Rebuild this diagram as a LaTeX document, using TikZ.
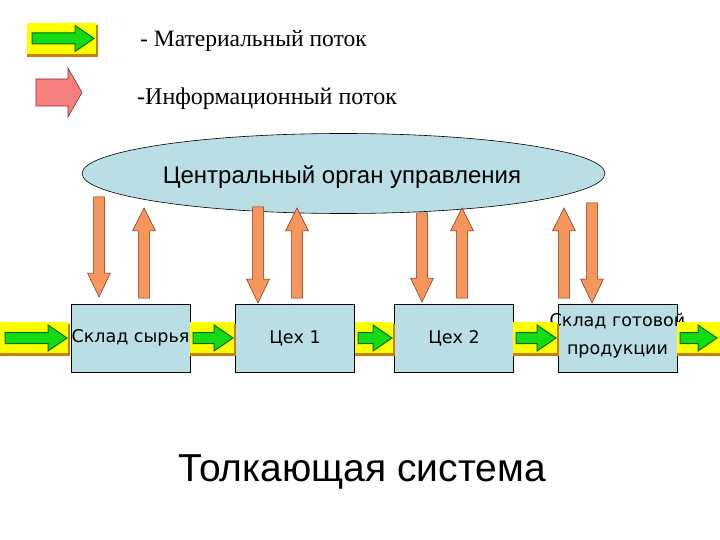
\documentclass[tikz,border=0pt]{standalone}
\usepackage{fontspec}
\setmainfont{Liberation Serif}
\newfontfamily\arialf{Liberation Sans}
\newfontfamily\tahf{DejaVu Sans}
\usetikzlibrary{shapes.geometric}
\definecolor{boxblue}{RGB}{185,222,228}
\definecolor{orfill}{RGB}{247,150,92}
\definecolor{orline}{RGB}{120,50,20}
\definecolor{pinkfill}{RGB}{246,128,128}
\definecolor{pinkline}{RGB}{150,40,40}
\definecolor{yel}{RGB}{255,255,0}
\definecolor{yshadow}{RGB}{200,130,0}
\definecolor{grfill}{RGB}{20,220,20}
\definecolor{grline}{RGB}{0,110,0}
\tikzset{
  info/.style={fill=orfill,draw=orline,line width=0.5pt},
  pinkarr/.style={fill=pinkfill,draw=pinkline,line width=0.6pt},
  matarr/.style={fill=grfill,draw=grline,line width=1pt},
  stagebox/.style={draw=black,line width=0.6pt,fill=boxblue,minimum width=119pt,minimum height=68pt,inner sep=0pt},
  stagetext/.style={inner sep=0pt,font=\tahf\fontsize{17.5}{28}\selectfont,align=center},
}
% vertical info arrows: x, ytail, ytip
\newcommand\downarr[3]{\filldraw[info] (#1-5.5,#2) -- (#1+5.5,#2) -- (#1+5.5,#3-24) -- (#1+11.5,#3-24) -- (#1,#3) -- (#1-11.5,#3-24) -- (#1-5.5,#3-24) -- cycle;}
\newcommand\uparr[3]{\filldraw[info] (#1-5.5,#2) -- (#1+5.5,#2) -- (#1+5.5,#3+23) -- (#1+11.5,#3+23) -- (#1,#3) -- (#1-11.5,#3+23) -- (#1-5.5,#3+23) -- cycle;}
% material strip: x1, x2, ytop, ybottom
\newcommand\strip[4]{\fill[yshadow] (#1,#3+2) rectangle (#2,#4+3);\fill[yel] (#1,#3) rectangle (#2-2,#4);}
\newcommand\greenarr[3]{\filldraw[matarr] (#1,#3-5.5) -- (#2-19,#3-5.5) -- (#2-19,#3-13) -- (#2,#3) -- (#2-19,#3+13) -- (#2-19,#3+5.5) -- (#1,#3+5.5) -- cycle;}
\begin{document}
\begin{tikzpicture}[x=1pt,y=-1pt]
\useasboundingbox (0,0) rectangle (720,540);
\fill[white] (0,0) rectangle (720,540);
% legend
\strip{27}{98}{23}{54}
\greenarr{32}{94}{38.5}
\node[anchor=base west,inner sep=0pt,font=\fontsize{23.5}{26}\selectfont] (legm) at (140,47) {- Материальный поток};
\filldraw[pinkarr] (36,79) -- (68,79) -- (68,68) -- (82,92.5) -- (68,117) -- (68,106) -- (36,106) -- cycle;
\node[anchor=base west,inner sep=0pt,font=\fontsize{24}{26}\selectfont] (legi) at (137,105) {-Информационный поток};
% ellipse
\node[ellipse,draw=black,line width=0.6pt,fill=boxblue,minimum width=523pt,minimum height=80pt,inner sep=0pt] (center) at (343.5,173.5) {};
\node[inner sep=0pt,font=\arialf\fontsize{24}{28}\selectfont] (centertext) at (342,177) {Центральный орган управления};
% info arrows
\downarr{99}{197}{297}
\uparr{144}{298}{208}
\downarr{258}{207}{303}
\uparr{297}{298}{208}
\downarr{422}{213}{302}
\uparr{462}{298}{208}
\uparr{564}{298}{208}
\downarr{592}{203}{303}
% boxes
\node[stagebox] (b1) at (130.5,338) {};
\node[stagetext] (t1) at (b1) {Склад сырья};
\node[stagebox] (b2) at (295,338) {};
\node[stagetext] (t2) at (b2) {Цех 1};
\node[stagebox] (b3) at (454,338) {};
\node[stagetext] (t3) at (b3) {Цех 2};
\node[stagebox] (b4) at (617.5,338) {};
\node[stagetext] (t4) at (617.5,336) {Склад готовой\\продукции};
% material strips
\strip{0}{70}{322}{353}
\greenarr{5}{67}{338}
\strip{190}{236}{322}{353}
\greenarr{193}{233}{338}
\strip{355}{395}{322}{353}
\greenarr{358}{392}{338}
\strip{513}{559}{322}{353}
\greenarr{516}{556}{338}
\strip{677}{722}{322}{353}
\greenarr{680}{717}{338}
% title
\node[anchor=base,inner sep=0pt,font=\arialf\fontsize{39}{42}\selectfont] (title) at (362,481) {Толкающая система};
\end{tikzpicture}
\end{document}
